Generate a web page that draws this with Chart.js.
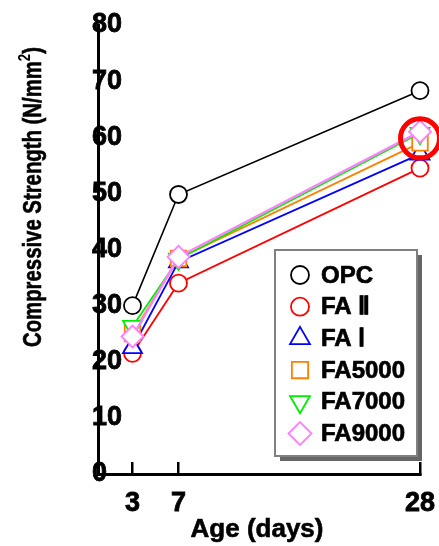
<!DOCTYPE html>
<html>
<head>
<meta charset="utf-8">
<script src="https://cdn.jsdelivr.net/npm/chart.js@4.4.0/dist/chart.umd.min.js"></script>
<style>
    html, body { margin: 0; padding: 0; background: #fff; }
</style>
</head>
<body>
<canvas id="strength_chart" width="439" height="546"></canvas>
<script>
// ages in days and the ticks shown on the axes
var ages = [3, 7, 28];
var xTicks = [3, 7, 28];
var yTicks = [0, 10, 20, 30, 40, 50, 60, 70, 80];

// compressive strength, N/mm2
var seriesNames = ['OPC', 'FA \u2161', 'FA \u2160', 'FA5000', 'FA7000', 'FA9000'];
var opc = [30.0, 49.8, 68.3];
var fa2 = [21.5, 34.0, 54.5];
var fa1 = [22.5, 37.8, 57.0];
var fa5000 = [25.0, 38.4, 59.0];
var fa7000 = [26.3, 38.3, 60.7];
var fa9000 = [24.5, 38.7, 61.0];

// the circled point on the right
var highlightAge = 28;
var highlightValue = 59.8;

var FONT = "'Liberation Sans', Arial, sans-serif";

function makeSet(i, values, color, style, radius, rot, lw) {
    return {
        label: seriesNames[i],
        data: ages.map(function(a, k) { return { x: a, y: values[k] }; }),
        borderColor: color,
        borderWidth: lw,
        backgroundColor: '#ffffff',
        pointBackgroundColor: '#ffffff',
        pointBorderColor: color,
        pointBorderWidth: 1.8,
        pointStyle: style,
        pointRadius: radius,
        pointRotation: rot,
        order: 5 - i,
        clip: false,
        tension: 0
    };
}

var datasets = [
    makeSet(0, opc, '#000000', 'circle', 8.5, 0, 1.6),
    makeSet(1, fa2, '#ff0000', 'circle', 8.5, 0, 1.8),
    makeSet(2, fa1, '#0000ff', 'triangle', 11, 0, 1.8),
    makeSet(3, fa5000, '#ff8000', 'rect', 11, 0, 1.8),
    makeSet(4, fa7000, '#00ee00', 'triangle', 11, 180, 1.8),
    makeSet(5, fa9000, '#ff80ff', 'rectRot', 11, 0, 2.4)
];

// legend box with a drop shadow, drawn inside the plot
var legendBox = {
    id: 'legendBox',
    afterDraw: function(chart) {
        var ctx = chart.ctx;
        var bx = 275, by = 250, bw = 142, bh = 206;
        ctx.save();
        ctx.fillStyle = '#666666';
        ctx.fillRect(bx + 5, by + 5, bw, bh);
        ctx.fillStyle = '#ffffff';
        ctx.fillRect(bx, by, bw, bh);
        ctx.strokeStyle = '#808080';
        ctx.lineWidth = 2;
        ctx.strokeRect(bx, by, bw, bh);

        ctx.font = 'bold 24px ' + FONT;
        ctx.textBaseline = 'middle';
        ctx.textAlign = 'left';
        datasets.forEach(function(ds, i) {
            var cy = by + 25 + i * 31.7;
            ctx.strokeStyle = ds.pointBorderColor;
            ctx.fillStyle = '#ffffff';
            ctx.lineWidth = 1.8;
            Chart.helpers.drawPoint(ctx, {
                pointStyle: ds.pointStyle,
                radius: ds.pointStyle == 'circle' ? 9 : 11.5,
                rotation: ds.pointRotation,
                borderWidth: 1.8
            }, bx + 25, cy);
            ctx.fillStyle = '#000000';
            ctx.strokeStyle = '#000000';
            ctx.lineWidth = 0.7;
            ctx.fillText(ds.label, bx + 46, cy + 1);
            ctx.strokeText(ds.label, bx + 46, cy + 1);
        });
        ctx.restore();
    }
};

var highlight = {
    id: 'highlight',
    afterDatasetsDraw: function(chart) {
        var ctx = chart.ctx;
        var x = chart.scales.x.getPixelForValue(highlightAge);
        var y = chart.scales.y.getPixelForValue(highlightValue);
        ctx.save();
        ctx.strokeStyle = '#ff0000';
        ctx.lineWidth = 5;
        ctx.beginPath();
        ctx.arc(x, y, 19.5, 0, Math.PI * 2);
        ctx.stroke();
        ctx.restore();
    }
};

var axisTitles = {
    id: 'axisTitles',
    afterDraw: function(chart) {
        var ctx = chart.ctx;
        ctx.save();
        ctx.fillStyle = '#000000';
        ctx.strokeStyle = '#000000';
        ctx.lineWidth = 0.6;
        ctx.font = 'bold 26px ' + FONT;
        ctx.textAlign = 'center';
        ctx.textBaseline = 'middle';
        ctx.fillText('Age (days)', 257, 530);
        ctx.strokeText('Age (days)', 257, 530);
        ctx.restore();

        // y title with a real superscript, squeezed a little along its length
        var main = 'Compressive Strength (N/mm';
        var sup = '2';
        var close = ')';
        ctx.save();
        ctx.fillStyle = '#000000';
        ctx.strokeStyle = '#000000';
        ctx.lineWidth = 0.6;
        ctx.textBaseline = 'alphabetic';
        ctx.textAlign = 'left';
        ctx.font = 'bold 26px ' + FONT;
        var wMain = ctx.measureText(main).width;
        var wClose = ctx.measureText(close).width;
        ctx.font = 'bold 17px ' + FONT;
        var wSup = ctx.measureText(sup).width;
        var total = wMain + wSup + wClose;
        var sx = 300 / total;
        ctx.translate(41, 197);
        ctx.rotate(-Math.PI / 2);
        ctx.scale(sx, 1);
        var x0 = -total / 2;
        ctx.font = 'bold 26px ' + FONT;
        ctx.fillText(main, x0, 0);
        ctx.strokeText(main, x0, 0);
        ctx.font = 'bold 17px ' + FONT;
        ctx.fillText(sup, x0 + wMain, -11);
        ctx.font = 'bold 26px ' + FONT;
        ctx.fillText(close, x0 + wMain + wSup, 0);
        ctx.strokeText(close, x0 + wMain + wSup, 0);
        ctx.restore();
    }
};

var ctx = document.getElementById('strength_chart').getContext('2d');
var myChart = new Chart(ctx, {
    type: 'line',
    data: { datasets: datasets },
    options: {
        responsive: false,
        animation: false,
        devicePixelRatio: 1,
        layout: { padding: { left: 0, top: 25, right: 19, bottom: 0 } },
        plugins: {
            legend: { display: false },
            tooltip: { enabled: false }
        },
        scales: {
            x: {
                type: 'linear',
                min: 0,
                max: 28,
                afterBuildTicks: function(scale) {
                    scale.ticks = xTicks.map(function(v) { return { value: v }; });
                },
                afterFit: function(scale) {
                    scale.height = 72;
                    scale.paddingLeft = 0;
                    scale.paddingRight = 0;
                },
                grid: {
                    display: true,
                    drawOnChartArea: false,
                    drawTicks: true,
                    tickLength: -12,
                    color: '#000000',
                    lineWidth: 2.5
                },
                border: { display: true, color: '#000000', width: 3 },
                ticks: {
                    color: '#000000',
                    font: { family: FONT, size: 27, weight: 'bold' },
                    textStrokeColor: '#000000',
                    textStrokeWidth: 0.8,
                    padding: 25,
                    maxRotation: 0,
                    autoSkip: false
                }
            },
            y: {
                min: 0,
                max: 80,
                afterBuildTicks: function(scale) {
                    scale.ticks = yTicks.map(function(v) { return { value: v }; });
                },
                afterFit: function(scale) {
                    scale.width = 98;
                    scale.paddingTop = 0;
                    scale.paddingBottom = 0;
                },
                grid: { display: false },
                border: { display: true, color: '#000000', width: 3 },
                ticks: {
                    color: '#000000',
                    mirror: true,
                    padding: -6,
                    textStrokeColor: '#000000',
                    textStrokeWidth: 0.8,
                    font: { family: FONT, size: 27, weight: 'bold' }
                }
            }
        }
    },
    plugins: [legendBox, highlight, axisTitles]
});
</script>
</body>
</html>
